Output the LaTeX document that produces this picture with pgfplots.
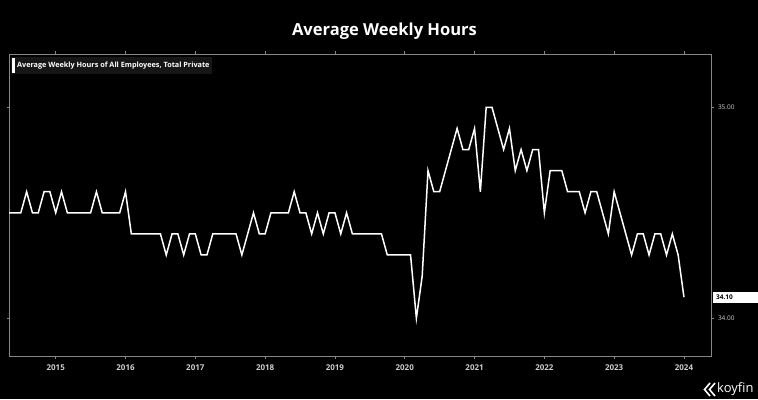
\documentclass[border=0pt]{standalone}
\usepackage{fontspec}
\setmainfont{Open Sans}
\usepackage{pgfplots}
\pgfplotsset{compat=1.18}
\definecolor{framegray}{RGB}{135,135,135}
\definecolor{ticklab}{RGB}{205,205,205}
\definecolor{legbg}{RGB}{22,22,22}
\begin{document}
\begin{tikzpicture}[x=1bp,y=1bp]
\useasboundingbox (0,0) rectangle (758,399);
\fill[black] (0,0) rectangle (758,399);
\node[text=white, font=\bfseries\fontsize{16.6}{18}\selectfont] at (384.5,368) {Average Weekly Hours};
\begin{axis}[at={(9bp,43bp)}, anchor=south west, scale only axis,
  width=702bp, height=302bp,
  xmin=-8.03, xmax=112.65, ymin=33.821, ymax=35.253,
  axis line style={framegray, line width=0.8bp},
  xtick={0,12,24,36,48,60,72,84,96,108},
  xticklabels={2015,2016,2017,2018,2019,2020,2021,2022,2023,2024},
  ytick={34,35}, yticklabels={34.00,35.00}, yticklabel pos=right,
  tick align=outside, major tick length=2.5bp,
  tick style={framegray, line width=0.6bp},
  xticklabel style={text=ticklab, font=\bfseries\fontsize{8}{9}\selectfont, yshift=-3bp},
  yticklabel style={text=ticklab, font=\fontsize{6.5}{7}\selectfont, xshift=1bp},
  clip mode=individual,
  legend style={at={(0,1)}, anchor=north west, xshift=2bp, yshift=-3bp,
    fill=legbg, draw=none, inner xsep=1pt, inner ysep=1pt, text=white,
    font=\bfseries\fontsize{7.3}{8}\selectfont, nodes={inner sep=1.8bp}},
  legend image code/.code={\fill[white] (0bp,-6.5bp) rectangle (1.6bp,6.5bp);},
]
\addplot[white, line width=1.5bp] coordinates {
(-8,34.5) (-7,34.5) (-6,34.5) (-5,34.6) (-4,34.5) (-3,34.5) (-2,34.6) (-1,34.6)
(0,34.5) (1,34.6) (2,34.5) (3,34.5) (4,34.5) (5,34.5) (6,34.5) (7,34.6)
(8,34.5) (9,34.5) (10,34.5) (11,34.5) (12,34.6) (13,34.4) (14,34.4) (15,34.4)
(16,34.4) (17,34.4) (18,34.4) (19,34.3) (20,34.4) (21,34.4) (22,34.3) (23,34.4)
(24,34.4) (25,34.3) (26,34.3) (27,34.4) (28,34.4) (29,34.4) (30,34.4) (31,34.4)
(32,34.3) (33,34.4) (34,34.5) (35,34.4) (36,34.4) (37,34.5) (38,34.5) (39,34.5)
(40,34.5) (41,34.6) (42,34.5) (43,34.5) (44,34.4) (45,34.5) (46,34.4) (47,34.5)
(48,34.5) (49,34.4) (50,34.5) (51,34.4) (52,34.4) (53,34.4) (54,34.4) (55,34.4)
(56,34.4) (57,34.3) (58,34.3) (59,34.3) (60,34.3) (61,34.3) (62,34.0) (63,34.2)
(64,34.7) (65,34.6) (66,34.6) (67,34.7) (68,34.8) (69,34.9) (70,34.8) (71,34.8)
(72,34.9) (73,34.6) (74,35.0) (75,35.0) (76,34.9) (77,34.8) (78,34.9) (79,34.7)
(80,34.8) (81,34.7) (82,34.8) (83,34.8) (84,34.5) (85,34.7) (86,34.7) (87,34.7)
(88,34.6) (89,34.6) (90,34.6) (91,34.5) (92,34.6) (93,34.6) (94,34.5) (95,34.4)
(96,34.6) (97,34.5) (98,34.4) (99,34.3) (100,34.4) (101,34.4) (102,34.3) (103,34.4)
(104,34.4) (105,34.3) (106,34.4) (107,34.3) (108,34.1)
};
\addlegendentry{Average Weekly Hours of All Employees, Total Private}
\node[fill=white, text=black, anchor=west, minimum width=46bp, minimum height=11bp,
  inner sep=1pt, font=\bfseries\fontsize{6.5}{7}\selectfont, align=left,
  text width=40bp] at (axis cs:112.65,34.1) [xshift=2bp] {34.10};
\end{axis}
\draw[white, line width=1.6bp, line join=miter] (710,16) -- (704.5,9.5) -- (710,3);
\draw[white, line width=1.6bp, line join=miter] (715,16) -- (709.5,9.5) -- (715,3);
\node[text=white, anchor=west, font=\fontsize{13}{14}\selectfont, inner sep=0pt] at (717,9.5) {koyfin};
\end{tikzpicture}
\end{document}
